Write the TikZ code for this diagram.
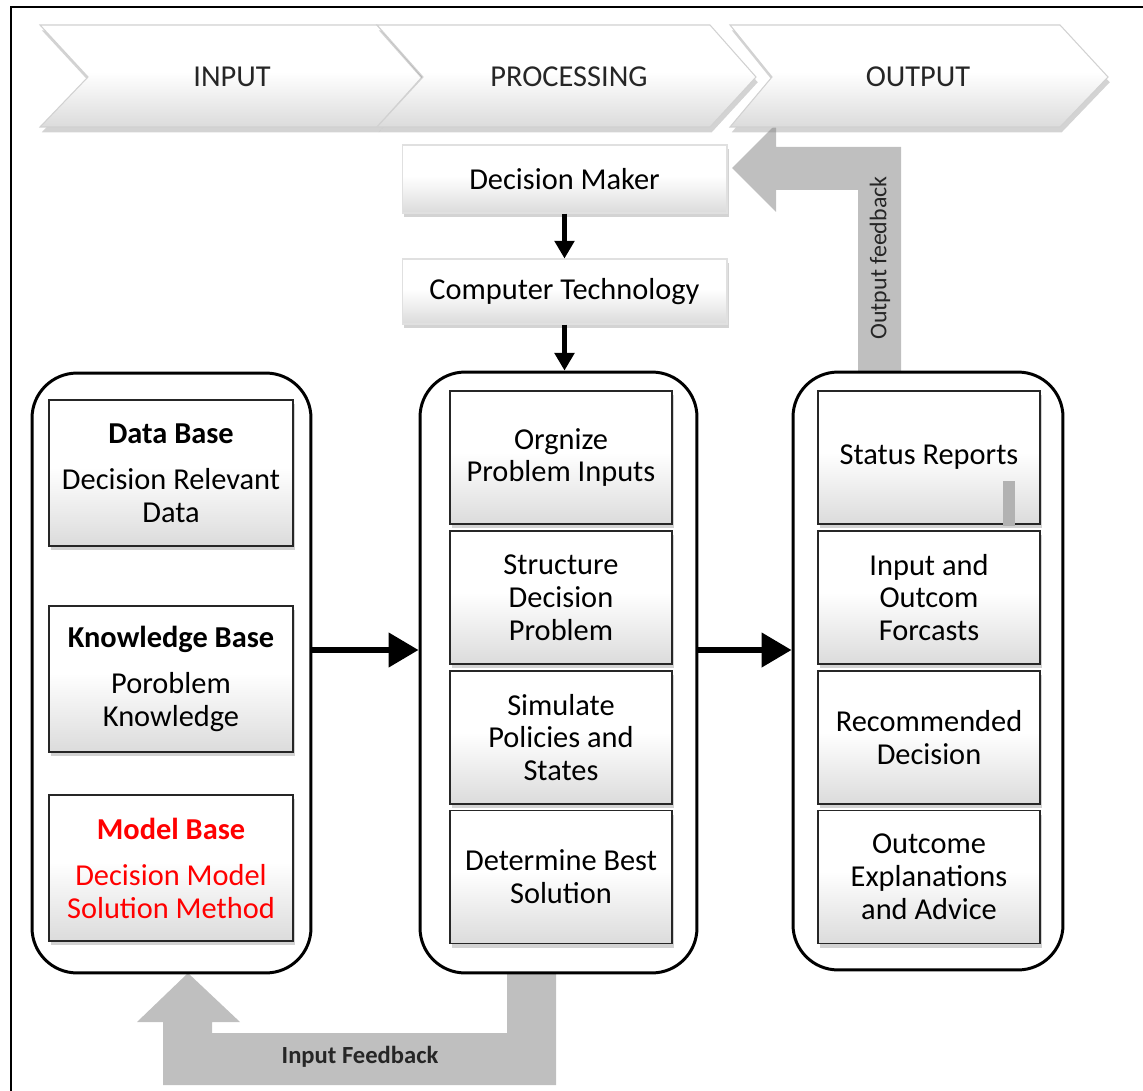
\documentclass[tikz,border=0pt]{standalone}
\usepackage{fontspec}
\setmainfont{Carlito}
\usetikzlibrary{arrows.meta,shadows}

% white in the upper half, fading to light grey at the bottom edge
\pgfdeclareverticalshading{softfade}{100bp}{color(0bp)=(black!14); color(25bp)=(black!14);
  color(52bp)=(white); color(100bp)=(white)}

\begin{document}
\begin{tikzpicture}[x=0.02cm,y=-0.02cm,
  basefont/.style={font=\fontsize{17.3}{18.7}\selectfont},
  container/.style={draw=black, line width=1.7pt, rounded corners=0.9cm, fill=white, inner sep=0pt},
  pbox/.style={basefont, draw=black!85, line width=1.1pt, shading=softfade,
    drop shadow={shadow xshift=1pt, shadow yshift=-2.5pt, opacity=0.35},
    inner sep=2pt, align=center},
  lbox/.style={pbox, minimum width=4.88cm, minimum height=2.92cm},
  mbox/.style={pbox, minimum width=4.44cm, minimum height=2.66cm},
  topbox/.style={basefont, draw=black!12, line width=0.6pt, shading=softfade,
    drop shadow={shadow xshift=1pt, shadow yshift=-2.5pt, opacity=0.35},
    minimum width=6.5cm, inner sep=2pt},
  chev/.style={draw=black!18, line width=0.6pt, shading=softfade,
    drop shadow={shadow xshift=1pt, shadow yshift=-3pt, opacity=0.35}},
  chevtxt/.style={basefont, text=black!85},
  flow/.style={line width=2.3pt, -{Triangle[width=11pt,length=10pt]}},
  bigflow/.style={line width=3.4pt, -{Triangle[width=19pt,length=17pt]}},
  feedback/.style={fill=black!25, draw=none},
]
\useasboundingbox (0,0) rectangle (1143,1091);

% outer frame
\draw[line width=1.1pt] (11,1091) -- (11,7) -- (1143,7);

% feedback block arrows (behind everything else)
\fill[feedback] (901,372) -- (901,147) -- (776,147) -- (776,124) -- (732,168)
  -- (776,212) -- (776,190) -- (858,190) -- (858,372) -- cycle;
\fill[feedback] (507,973) -- (556,973) -- (556,1085) -- (163,1085) -- (163,1022)
  -- (137,1022) -- (188,973) -- (240,1022) -- (212,1022) -- (212,1033) -- (507,1033) -- cycle;
\node[font=\fontsize{13.6}{15}\selectfont, rotate=90, text=black!85] (ofb) at (880,258) {Output feedback};
\node[font=\bfseries\fontsize{14}{16}\selectfont, text=black!85] (ifb) at (360,1057) {Input Feedback};

% process chevrons
\path[chev] (40,25) -- (377,25) -- (422,77) -- (377,127) -- (40,127) -- (88,77) -- cycle;
\path[chev] (377,25) -- (710,25) -- (756,77) -- (710,127) -- (377,127) -- (423,77) -- cycle;
\path[chev] (730,25) -- (1060,25) -- (1108,77) -- (1060,127) -- (730,127) -- (772,77) -- cycle;
\node[chevtxt] (cin) at (232,77) {INPUT};
\node[chevtxt] (cproc) at (569,77) {PROCESSING};
\node[chevtxt] (cout) at (918,77) {OUTPUT};

% decision maker and technology
\node[topbox, minimum height=1.36cm] (dm) at (564.5,179) {Decision Maker};
\node[topbox, minimum height=1.3cm] (ct) at (564.5,291.5) {Computer Technology};

% three containers
\node[container, minimum width=5.58cm, minimum height=12cm] (lc) at (171.5,673) {};
\node[container, minimum width=5.54cm, minimum height=12.02cm] (mc) at (558.5,672.5) {};
\node[container, minimum width=5.4cm, minimum height=11.96cm] (rc) at (928,671) {};

% input side
\node[lbox] (db) at (171,473) {\textbf{Data Base}\\[7.5pt]Decision Relevant\\Data};
\node[lbox] (kb) at (171,679) {\textbf{Knowledge Base}\\[7.5pt]Poroblem\\Knowledge};
\node[lbox, text=red] (mb) at (171,868) {\textbf{Model Base}\\[7.5pt]Decision Model\\Solution Method};

% processing steps
\node[mbox] (p1) at (561,457.5) {Orgnize\\Problem Inputs};
\node[mbox] (p2) at (561,597.5) {Structure\\Decision\\Problem};
\node[mbox] (p3) at (561,737.5) {Simulate\\Policies and\\States};
\node[mbox] (p4) at (561,877) {Determine Best\\Solution};

% outputs
\node[mbox] (o1) at (929,457.5) {Status Reports};
\node[mbox] (o2) at (929,597.5) {Input and\\Outcom\\Forcasts};
\node[mbox] (o3) at (929,737.5) {Recommended\\Decision};
\node[mbox] (o4) at (929,877) {Outcome\\Explanations\\and Advice};
\fill[black!30] (1003,481) rectangle (1015,526);

% flow arrows
\coordinate (row) at (0,650);
\draw[flow] (dm.south) -- (ct.north);
\draw[flow] (ct.south) -- (ct.south |- mc.north);
\draw[bigflow] (lc.east |- row) -- (mc.west |- row);
\draw[bigflow] (mc.east |- row) -- (rc.west |- row);
\end{tikzpicture}
\end{document}
